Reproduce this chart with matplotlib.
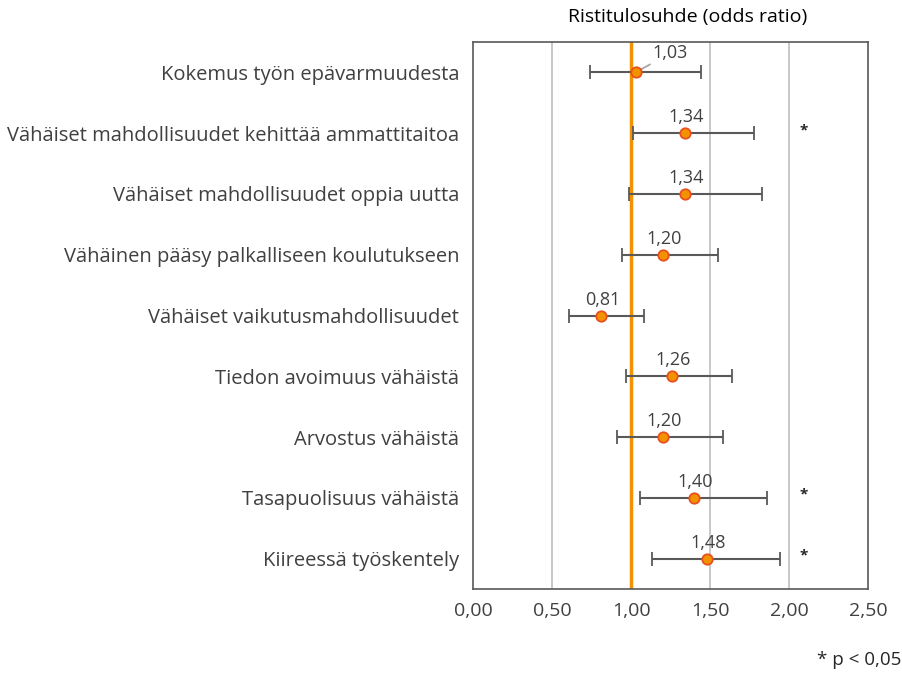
import matplotlib.pyplot as plt

plt.rcParams['font.family'] = ['Open Sans', 'DejaVu Sans']

categories = ['Kokemus työn epävarmuudesta',
              'Vähäiset mahdollisuudet kehittää ammattitaitoa',
              'Vähäiset mahdollisuudet oppia uutta',
              'Vähäinen pääsy palkalliseen koulutukseen',
              'Vähäiset vaikutusmahdollisuudet',
              'Tiedon avoimuus vähäistä',
              'Arvostus vähäistä',
              'Tasapuolisuus vähäistä',
              'Kiireessä työskentely']
odds = [1.03, 1.34, 1.34, 1.20, 0.81, 1.26, 1.20, 1.40, 1.48]
ci_low = [0.74, 1.01, 0.99, 0.94, 0.61, 0.97, 0.91, 1.06, 1.13]
ci_high = [1.44, 1.78, 1.83, 1.55, 1.08, 1.64, 1.58, 1.86, 1.94]
significant = [False, True, False, False, False, False, False, True, True]
xticks = [0.0, 0.5, 1.0, 1.5, 2.0, 2.5]

fig = plt.figure(figsize=(9.03, 6.74), dpi=100)
ax = fig.add_axes([473/903, 1-589/674, 395/903, 547/674])

ypos = list(range(len(categories)))
for x in [0.5, 1.5, 2.0]:
    ax.axvline(x, color='#BFBFBF', lw=1.2, zorder=1)
ax.axvline(1.0, color='#F39200', lw=2.5, zorder=2)

xerr = [[o - l for o, l in zip(odds, ci_low)], [h - o for o, h in zip(odds, ci_high)]]
ax.errorbar(odds, ypos, xerr=xerr, fmt='o', color='#595959', ecolor='#595959',
            elinewidth=1.5, capsize=5, capthick=1.5, markersize=7.5,
            markerfacecolor='#F39200', markeredgecolor='#E8501E', markeredgewidth=1.3,
            zorder=3)

for i, (o, y) in enumerate(zip(odds, ypos)):
    lab = f'{o:.2f}'.replace('.', ',')
    if i == 0:
        ax.annotate(lab, (o, y), xytext=(25, 14), textcoords='offset points',
                    ha='center', va='center', fontsize=13, color='#404040',
                    arrowprops=dict(arrowstyle='-', color='#A6A6A6', lw=1.3,
                                    shrinkA=0, shrinkB=0))
    else:
        ax.annotate(lab, (o, y), xytext=(1, 5), textcoords='offset points',
                    ha='center', va='bottom', fontsize=13, color='#404040')
    if significant[i]:
        ax.text(2.09, y - 0.05, '*', ha='center', va='center', fontsize=11,
                fontweight='bold', color='#262626')

ax.set_xlim(0, 2.5)
ax.set_ylim(len(categories) - 0.5, -0.5)
ax.set_xticks(xticks)
ax.set_xticklabels([f'{t:.2f}'.replace('.', ',') for t in xticks], fontsize=14, color='#404040')
ax.set_yticks(ypos)
ax.set_yticklabels(categories, fontsize=14.5, color='#404040')
ax.tick_params(axis='y', length=0, pad=10)
ax.tick_params(axis='x', length=0, pad=9)
for s in ax.spines.values():
    s.set_color('#595959')
    s.set_linewidth(1.2)

fig.text(688/903, 1-17/674, 'Ristitulosuhde (odds ratio)', ha='center', va='center',
         fontsize=14, color='#000000')
fig.text(901/903, 1-660/674, '* p < 0,05', ha='right', va='center', fontsize=13.5, color='#262626')

fig.savefig('out.png', dpi=100)
